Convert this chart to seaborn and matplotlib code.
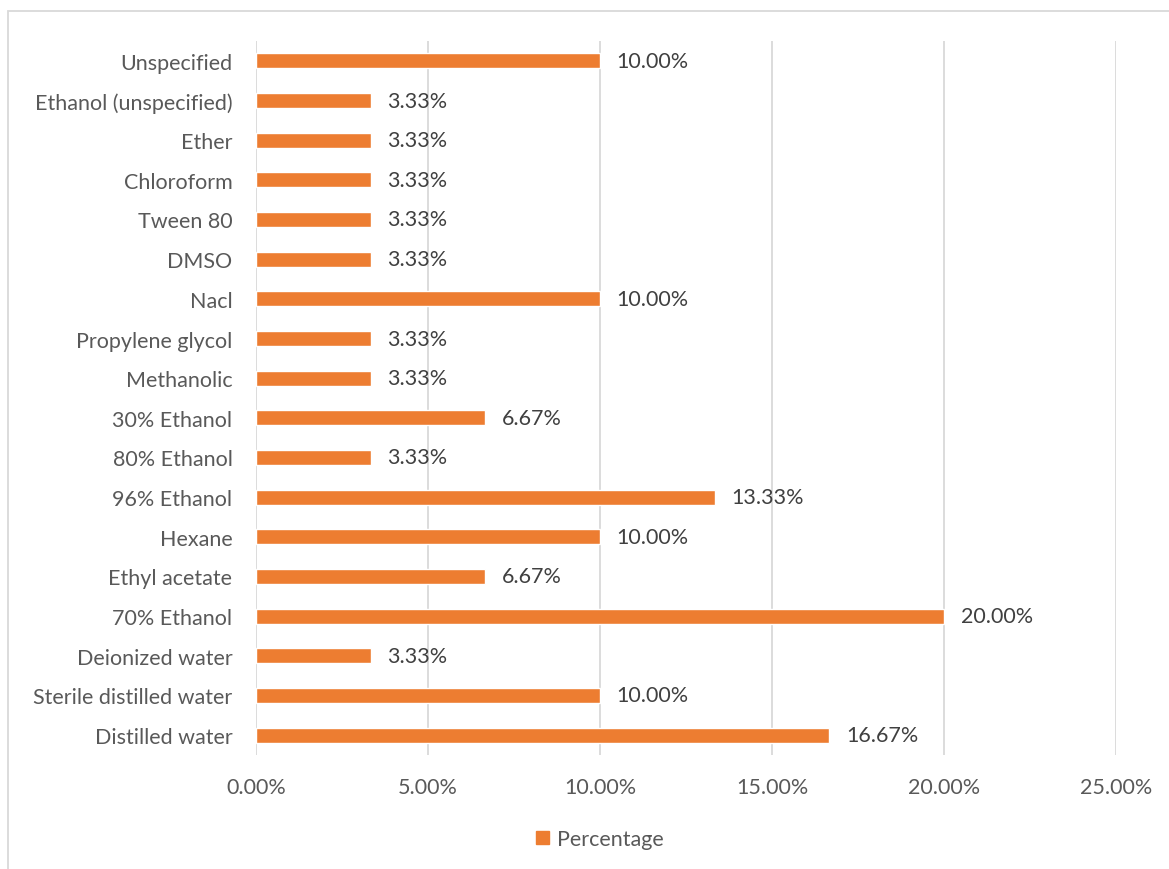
import matplotlib
matplotlib.use("Agg")
import matplotlib.pyplot as plt
import matplotlib.patches as mpatches
from matplotlib.ticker import FuncFormatter
import seaborn as sns
import pandas as pd

# categories listed top to bottom as in the chart
solvents = ["Unspecified", "Ethanol (unspecified)", "Ether", "Chloroform", "Tween 80",
            "DMSO", "Nacl", "Propylene glycol", "Methanolic", "30% Ethanol",
            "80% Ethanol", "96% Ethanol", "Hexane", "Ethyl acetate", "70% Ethanol",
            "Deionized water", "Sterile distilled water", "Distilled water"]
percentage = [10.00, 3.33, 3.33, 3.33, 3.33, 3.33, 10.00, 3.33, 3.33, 6.67,
              3.33, 13.33, 10.00, 6.67, 20.00, 3.33, 10.00, 16.67]
x_ticks = [0, 5, 10, 15, 20, 25]

df = pd.DataFrame({"Solvent": solvents, "Percentage": percentage})

sns.set_theme(style="white")
plt.rcParams["font.family"] = ["Lato", "DejaVu Sans"]

bar_color = "#ED7D31"
label_color = "#595959"
fs = 15.5

fig = plt.figure(figsize=(11.69, 8.70), dpi=100)
ax = fig.add_axes([256 / 1169, 1 - 756 / 870, (1116 - 256) / 1169, (756 - 42) / 870])

sns.barplot(data=df, x="Percentage", y="Solvent", orient="h", color=bar_color,
            width=0.38, saturation=1, ax=ax)

ax.set_xlim(0, 25)
ax.set_xticks(x_ticks)
ax.xaxis.set_major_formatter(FuncFormatter(lambda v, p: f"{v:.2f}%"))
ax.grid(axis="x", color="#D9D9D9", linewidth=1.3)
ax.set_axisbelow(True)
for s in ax.spines.values():
    s.set_visible(False)
ax.tick_params(axis="both", length=0, labelsize=fs, colors=label_color)
ax.tick_params(axis="x", pad=16)
ax.tick_params(axis="y", pad=17)
ax.set_xlabel("")
ax.set_ylabel("")

# data labels
for cont in ax.containers:
    ax.bar_label(cont, labels=[f"{v:.2f}%" for v in percentage], padding=12,
                 fontsize=fs, color="#404040")

# legend
handle = mpatches.Patch(color=bar_color, label="Percentage")
fig.legend(handles=[handle], loc="center", bbox_to_anchor=(600 / 1169, 1 - 840 / 870),
           frameon=False, fontsize=fs, handlelength=0.6, handleheight=0.6,
           handletextpad=0.4, labelcolor=label_color)

# chart area border (runs off the right and bottom edges)
fig.patches.append(mpatches.Rectangle((8 / 1169, -0.1), 1.2, 1.1 - 12 / 870,
                                      transform=fig.transFigure, fill=False,
                                      edgecolor="#D9D9D9", linewidth=1.3))

fig.savefig("out.png", dpi=100)
